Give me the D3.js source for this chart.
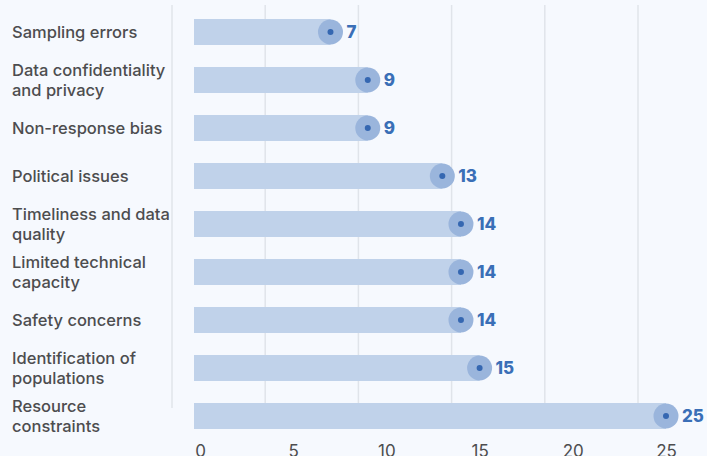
<!DOCTYPE html>
<html>
<head>
<meta charset="utf-8">
<script src="https://cdn.jsdelivr.net/npm/d3@7"></script>
<style>
  html, body { margin: 0; padding: 0; background: #f6f9fe; }
  svg { display: block; }
</style>
</head>
<body>
<svg class="chart"></svg>
<script>
const categories = [
  ['Sampling errors'],
  ['Data confidentiality', 'and privacy'],
  ['Non-response bias'],
  ['Political issues'],
  ['Timeliness and data', 'quality'],
  ['Limited technical', 'capacity'],
  ['Safety concerns'],
  ['Identification of', 'populations'],
  ['Resource', 'constraints'],
];
const values = [7, 9, 9, 13, 14, 14, 14, 15, 25];
const ticks = [0, 5, 10, 15, 20, 25];

const WIDTH = 707;
const HEIGHT = 456;
const MARGIN = { top: 32, right: 41, bottom: 40, left: 200 };

const svg = d3.select('svg.chart')
  .attr('width', WIDTH)
  .attr('height', HEIGHT);

const x = d3.scaleLinear().domain([0, 25]).range([MARGIN.left, WIDTH - MARGIN.right]);
const y = d3.scalePoint()
  .domain(d3.range(categories.length))
  .range([MARGIN.top, HEIGHT - MARGIN.bottom]);

// grid sits a bit left of the value scale in the original
svg.append('g')
  .attr('class', 'grid')
  .attr('transform', 'translate(-28,0)')
  .selectAll('line')
  .data(ticks)
  .join('line')
    .attr('x1', d => x(d))
    .attr('x2', d => x(d))
    .attr('y1', 5)
    .attr('y2', 408)
    .attr('stroke', '#e0e4ea')
    .attr('stroke-width', 1.5);

const row = svg.selectAll('.row')
  .data(values)
  .join('g')
    .attr('class', 'row')
    .attr('transform', (d, i) => `translate(0,${y(i)})`);

row.append('rect')
  .attr('x', x(0) - 6)
  .attr('y', -13)
  .attr('width', d => x(d) - x(0) + 6)
  .attr('height', 26)
  .attr('fill', '#c0d2ea');

row.append('circle')
  .attr('cx', d => x(d))
  .attr('r', 12.5)
  .attr('fill', '#9ab5dc');

row.append('circle')
  .attr('cx', d => x(d))
  .attr('r', 3)
  .attr('fill', '#3567b1');

row.append('text')
  .attr('x', d => x(d) + 16)
  .attr('dy', '0.36em')
  .attr('fill', '#3a6fb7')
  .attr('font-family', 'Inter, sans-serif')
  .attr('font-weight', 800)
  .attr('font-size', 17)
  .text(d => d);

// category labels, one or two lines
svg.selectAll('.cat')
  .data(categories)
  .join('text')
    .attr('class', 'cat')
    .attr('x', 12)
    .attr('y', (d, i) => y(i) - (d.length - 1) * 10)
    .attr('fill', '#4d4d4f')
    .attr('font-family', 'Inter, sans-serif')
    .attr('font-weight', 500)
    .attr('font-size', 16.5)
  .selectAll('tspan')
  .data(d => d)
  .join('tspan')
    .attr('x', 12)
    .attr('dy', (d, i) => i === 0 ? '0.35em' : 20)
    .text(d => d);

const axis = svg.append('g')
  .attr('class', 'axis axis-x')
  .attr('transform', `translate(0,${HEIGHT - 11})`)
  .call(d3.axisBottom(x).tickValues(ticks).tickSize(0).tickPadding(0));

axis.select('.domain').remove();
axis.selectAll('text')
  .attr('fill', '#4d4d4f')
  .attr('font-family', 'Inter, sans-serif')
  .attr('font-size', 17);
</script>
</body>
</html>
